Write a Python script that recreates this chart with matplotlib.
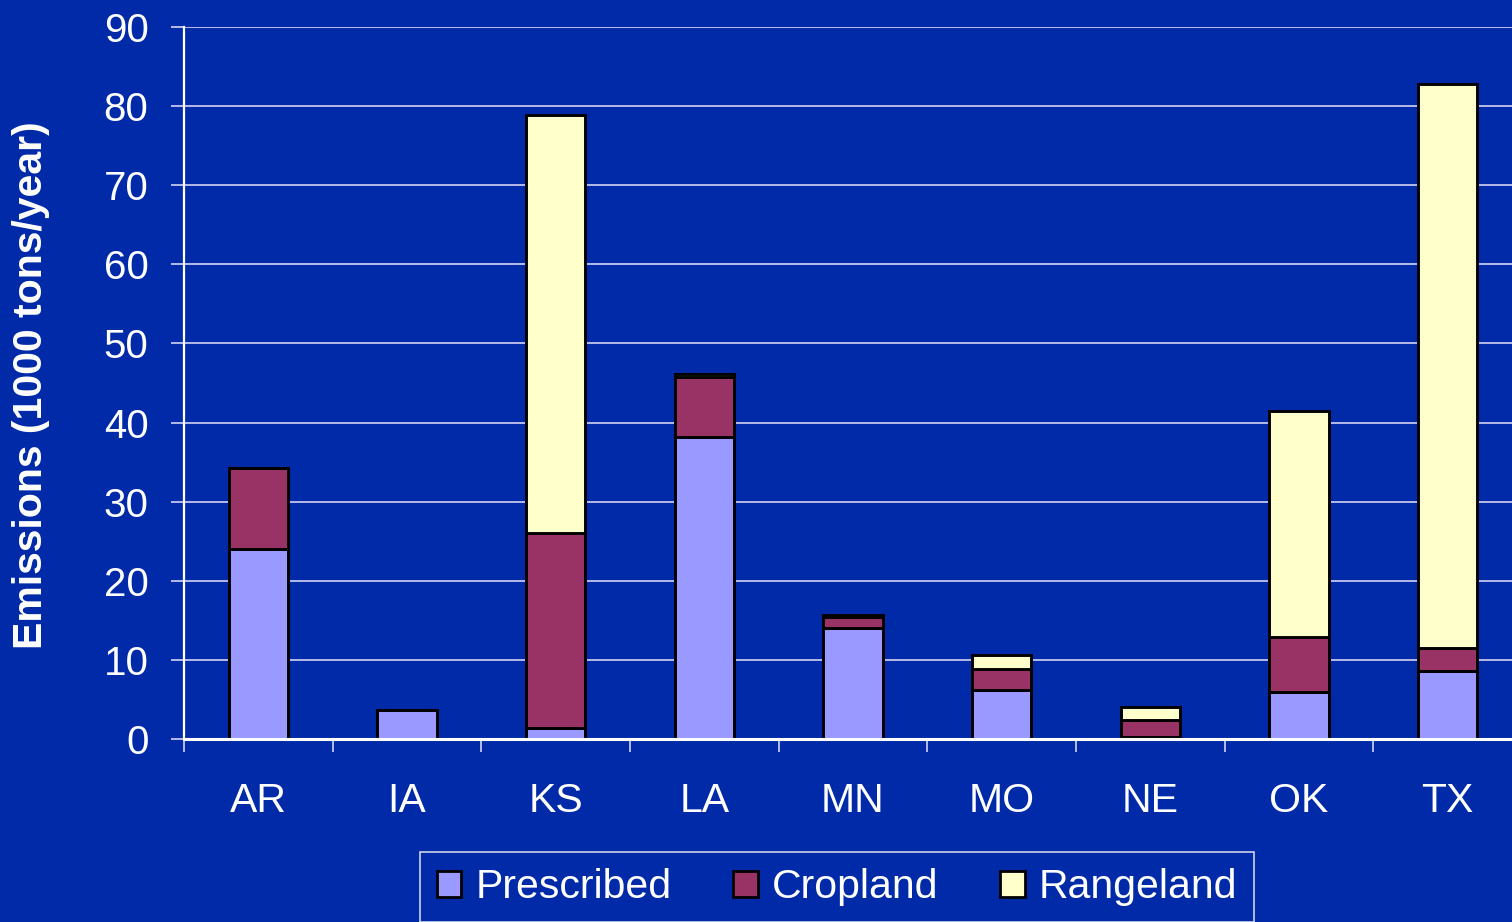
import numpy as np
import matplotlib
matplotlib.use("Agg")
import matplotlib.pyplot as plt
from matplotlib.patches import Patch

# Datos (1000 tons/year)
estados = ["AR", "IA", "KS", "LA", "MN", "MO", "NE", "OK", "TX"]
prescribed = [24.0, 3.7, 1.4, 38.2, 14.0, 6.2, 0.2, 5.9, 8.6]
cropland = [10.3, 0.0, 24.6, 7.6, 1.4, 2.7, 2.2, 7.0, 2.9]
rangeland = [0.0, 0.0, 52.9, 0.3, 0.3, 1.7, 1.6, 28.6, 71.3]

series = ["Prescribed", "Cropland", "Rangeland"]
colores = ["#9999FF", "#993366", "#FFFFCC"]

bg = "#002AA8"
plt.rcParams["font.family"] = ["Liberation Sans", "DejaVu Sans"]

fig = plt.figure(figsize=(15.12, 9.22), dpi=100)
fig.patch.set_facecolor(bg)
ax = fig.add_axes([184 / 1512, 1 - 739 / 922, 1338 / 1512, 712 / 922])
ax.set_facecolor(bg)

x = np.arange(len(estados))
bottom = np.zeros(len(estados))
for vals, c in zip([prescribed, cropland, rangeland], colores):
    vals = np.array(vals)
    ax.bar(x, vals, width=0.4, bottom=bottom, color=c,
           edgecolor="black", linewidth=2.1, zorder=3)
    bottom += vals

ax.set_xlim(-0.5, len(estados) - 0.5)
ax.set_ylim(0, 90)
ax.set_yticks(np.arange(0, 91, 10))

# Grid
ax.yaxis.grid(True, color="#d4d4f4", linewidth=1.2, zorder=0)
ax.set_axisbelow(True)

# Ejes
for s in ["top", "right"]:
    ax.spines[s].set_visible(False)
ax.spines["left"].set_color("white")
ax.spines["left"].set_linewidth(1.6)
ax.spines["bottom"].set_color("white")
ax.spines["bottom"].set_linewidth(2.2)
ax.spines["bottom"].set_zorder(4)

ax.set_xticks(x)
ax.set_xticklabels(estados)
ax.set_xticks(np.arange(-0.5, len(estados), 1), minor=True)
ax.tick_params(axis="x", which="major", length=0, pad=31,
               labelsize=29.5, labelcolor="white")
ax.tick_params(axis="x", which="minor", length=9, width=1.2,
               color="#d4d4f4", direction="out")
ax.tick_params(axis="y", length=9.5, width=1.2, color="#d4d4f4",
               pad=16, labelsize=29, labelcolor="white")

ax.set_ylabel("Emissions (1000 tons/year)", color="white",
              fontsize=29.5, fontweight="bold")
ax.yaxis.set_label_coords(50 / 1512, 1 - 385 / 922, transform=fig.transFigure)

# Leyenda
handles = [Patch(facecolor=c, edgecolor="black", linewidth=2.0, label=s)
           for s, c in zip(series, colores)]
leg = fig.legend(handles=handles, loc="center",
                 bbox_to_anchor=(837 / 1512, 1 - 887 / 922),
                 ncol=3, fontsize=29.5, frameon=True, fancybox=False,
                 facecolor=bg, edgecolor="white", labelcolor="white",
                 handlelength=0.6, handleheight=0.6, handletextpad=0.35,
                 columnspacing=1.5, borderpad=0.4, borderaxespad=0)
leg.get_frame().set_linewidth(1.2)

fig.savefig("out.png", dpi=100, facecolor=bg)
